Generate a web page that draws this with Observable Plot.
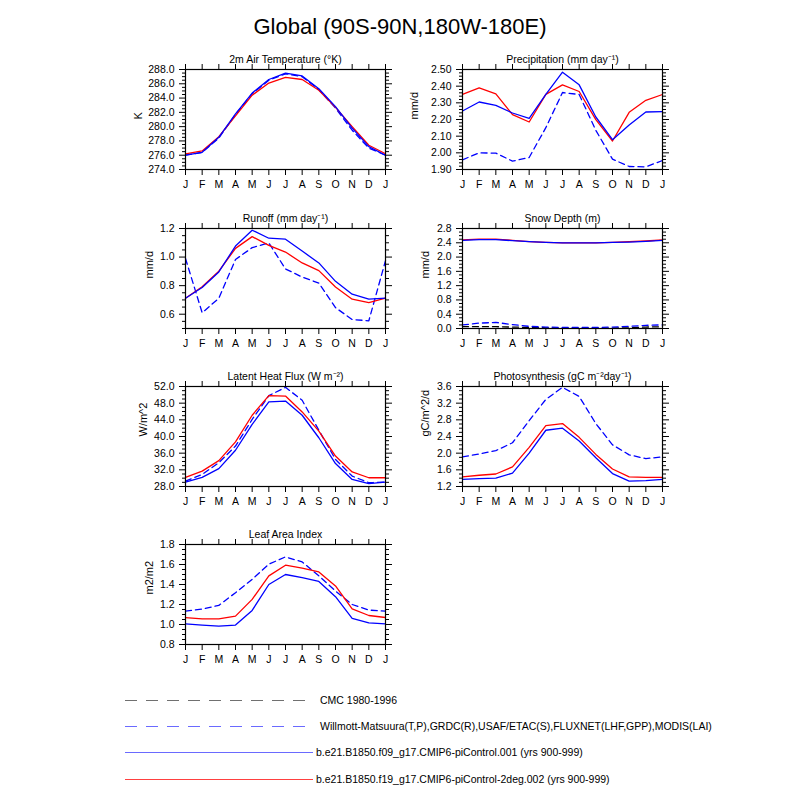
<!DOCTYPE html>
<html>
<head>
<meta charset="utf-8">
<script src="https://cdn.jsdelivr.net/npm/d3@7"></script>
<script src="https://cdn.jsdelivr.net/npm/@observablehq/plot@0.6"></script>
<style>
  html, body { margin: 0; padding: 0; background: #fff; }
  #root { position: relative; width: 800px; height: 800px; background: #fff; overflow: hidden; }
  #root > svg, #root > div { position: absolute; }
</style>
</head>
<body>
<div id="root"></div>
<script>
// ---------- data ----------
const months = ["J","F","M","A","M","J","J","A","S","O","N","D","J"];

const mainTitle = "Global (90S-90N,180W-180E)";

const legendLabels = [
  "CMC 1980-1996",
  "Willmott-Matsuura(T,P),GRDC(R),USAF/ETAC(S),FLUXNET(LHF,GPP),MODIS(LAI)",
  "b.e21.B1850.f09_g17.CMIP6-piControl.001 (yrs 900-999)",
  "b.e21.B1850.f19_g17.CMIP6-piControl-2deg.002 (yrs 900-999)"
];

// 2m air temperature (K)
const tsaF09 = [276.0,276.4,278.5,281.8,284.7,286.6,287.5,287.1,285.3,282.8,279.8,277.2,276.0];
const tsaF19 = [276.2,276.6,278.6,281.5,284.4,286.1,286.9,286.6,285.1,282.7,280.0,277.4,276.2];
const tsaObs = [276.0,276.4,278.4,281.7,284.6,286.5,287.4,287.0,285.2,282.6,279.5,277.0,276.0];

// precipitation (mm/d)
const preF09 = [2.251,2.305,2.285,2.239,2.207,2.351,2.484,2.408,2.215,2.079,2.167,2.245,2.247];
const preF19 = [2.351,2.390,2.354,2.229,2.185,2.351,2.408,2.368,2.199,2.071,2.243,2.315,2.350];
const preObs = [1.958,2.000,1.998,1.950,1.972,2.151,2.362,2.350,2.135,1.962,1.918,1.916,1.954];

// runoff (mm/d)
const qroF09 = [0.712,0.787,0.896,1.077,1.188,1.132,1.125,1.042,0.959,0.830,0.740,0.705,0.712];
const qroF19 = [0.712,0.792,0.901,1.061,1.143,1.082,1.035,0.959,0.905,0.790,0.705,0.681,0.712];
const qroObs = [0.990,0.610,0.712,0.983,1.066,1.099,0.917,0.860,0.818,0.646,0.563,0.554,0.975];

// snow depth (m)
const snoF09 = [2.47,2.49,2.49,2.46,2.43,2.41,2.40,2.40,2.40,2.41,2.42,2.44,2.47];
const snoF19 = [2.48,2.50,2.50,2.47,2.43,2.41,2.40,2.40,2.40,2.41,2.43,2.45,2.48];
const snoObs = [0.10,0.15,0.17,0.11,0.06,0.04,0.03,0.03,0.03,0.04,0.06,0.09,0.10];
const snoCmc = [0.05,0.05,0.05,0.04,0.03,0.02,0.01,0.01,0.01,0.01,0.02,0.04,0.05];

// latent heat flux (W/m2)
const lhfF09 = [29.05,30.2,32.3,36.7,42.9,48.3,48.5,45.1,39.7,33.5,29.7,28.7,29.05];
const lhfF19 = [30.2,31.7,34.2,38.7,45.1,49.8,49.7,45.9,41.3,35.3,31.5,30.1,30.1];
const lhfObs = [29.3,30.9,33.7,37.7,44.1,49.8,51.8,48.7,41.5,34.5,30.5,28.9,29.1];

// photosynthesis (gC/m2/d)
const gppF09 = [1.37,1.39,1.40,1.52,2.00,2.55,2.60,2.29,1.89,1.51,1.33,1.34,1.37];
const gppF19 = [1.43,1.47,1.50,1.67,2.14,2.66,2.71,2.38,1.97,1.62,1.43,1.42,1.42];
const gppObs = [1.91,1.98,2.06,2.25,2.78,3.29,3.58,3.36,2.71,2.20,1.96,1.87,1.91];

// leaf area index (m2/m2)
const laiF09 = [1.007,0.994,0.984,0.994,1.141,1.400,1.500,1.469,1.431,1.278,1.061,1.017,1.007];
const laiF19 = [1.068,1.057,1.057,1.084,1.251,1.486,1.593,1.563,1.526,1.386,1.157,1.090,1.070];
const laiObs = [1.134,1.154,1.191,1.318,1.452,1.603,1.676,1.626,1.486,1.335,1.200,1.144,1.134];

// ---------- styles ----------
const FONT = "'Liberation Sans', Arial, Helvetica, sans-serif";
const S_CMC = {stroke: "black", dash: "6,4"};
const S_OBS = {stroke: "#0000ff", dash: "6,4"};
const S_F09 = {stroke: "#0000ff", dash: null};
const S_F19 = {stroke: "#ff0000", dash: null};

const panels = [
  {title: "2m Air Temperature (°K)", ylabel: "K", domain: [274, 288], major: 2, minor: 0.5, fmt: ".1f", ldx: -47,
   col: 0, row: 0, series: [[tsaObs, S_OBS], [tsaF19, S_F19], [tsaF09, S_F09]]},
  {title: "Precipitation (mm day⁻¹)", ylabel: "mm/d", domain: [1.9, 2.5], major: 0.1, minor: 0.02, fmt: ".2f", ldx: -48,
   col: 1, row: 0, series: [[preObs, S_OBS], [preF19, S_F19], [preF09, S_F09]]},
  {title: "Runoff (mm day⁻¹)", ylabel: "mm/d", domain: [0.5, 1.2], majorStart: 0.6, major: 0.2, minor: 0.05, fmt: ".1f", ldx: -36,
   col: 0, row: 1, series: [[qroObs, S_OBS], [qroF19, S_F19], [qroF09, S_F09]]},
  {title: "Snow Depth (m)", ylabel: "mm/d", domain: [0, 2.8], major: 0.4, minor: 0.1, fmt: ".1f", ldx: -37,
   col: 1, row: 1, series: [[snoCmc, S_CMC], [snoObs, S_OBS], [snoF19, S_F19], [snoF09, S_F09]]},
  {title: "Latent Heat Flux (W m⁻²)", ylabel: "W/m^2", domain: [28, 52], major: 4, minor: 1, fmt: ".1f", ldx: -42,
   col: 0, row: 2, series: [[lhfObs, S_OBS], [lhfF19, S_F19], [lhfF09, S_F09]]},
  {title: "Photosynthesis (gC m⁻²day⁻¹)", ylabel: "gC/m^2/d", domain: [1.2, 3.6], major: 0.4, minor: 0.1, fmt: ".1f", ldx: -37,
   col: 1, row: 2, series: [[gppObs, S_OBS], [gppF19, S_F19], [gppF09, S_F09]]},
  {title: "Leaf Area Index", ylabel: "m2/m2", domain: [0.8, 1.8], major: 0.2, minor: 0.05, fmt: ".1f", ldx: -36,
   col: 0, row: 3, series: [[laiObs, S_OBS], [laiF19, S_F19], [laiF09, S_F09]]}
];

// ---------- layout ----------
const colX = [185, 462];
const rowY = [69, 228, 386, 544];
const W = 200, H = 100, mL = 62, mR = 12, mT = 26, mB = 28;

const root = document.getElementById("root");

function stepTicks(lo, hi, step) {
  const n = Math.round((hi - lo) / step);
  const out = [];
  for (let k = 0; k <= n; k++) out.push(+(lo + k * step).toFixed(6));
  return out;
}

// background layer: title + legend
const bg = d3.select(root).append("svg")
  .attr("width", 800).attr("height", 800)
  .style("left", "0px").style("top", "0px")
  .style("font-family", FONT);

bg.append("text")
  .attr("x", 400).attr("y", 34)
  .attr("text-anchor", "middle")
  .attr("font-size", 22)
  .attr("fill", "black")
  .text(mainTitle);

for (const p of panels) {
  const [lo, hi] = p.domain;
  const major = stepTicks(p.majorStart ?? lo, hi, p.major);
  const minor = stepTicks(lo, hi, p.minor).filter(v => !major.some(m => Math.abs(m - v) < 1e-6));
  const fmt = d3.format(p.fmt);
  const xt = d3.range(months.length);
  const blank = () => "";

  const marks = [
    Plot.axisX({anchor: "bottom", ticks: xt, tickSize: 6, tickPadding: 5, tickFormat: i => months[i], label: null, fontSize: 10.5}),
    Plot.axisX({anchor: "top", ticks: xt, tickSize: 6, tickFormat: blank, label: null}),
    Plot.axisY({anchor: "left", ticks: major, tickSize: 6, tickPadding: 5, tickFormat: fmt, label: null, fontSize: 10.5}),
    Plot.axisY({anchor: "left", ticks: minor, tickSize: 3, tickFormat: blank, label: null}),
    Plot.axisY({anchor: "right", ticks: major, tickSize: 6, tickFormat: blank, label: null}),
    Plot.axisY({anchor: "right", ticks: minor, tickSize: 3, tickFormat: blank, label: null})
  ];
  for (const [vals, st] of p.series) {
    marks.push(Plot.line(vals, {
      x: (d, i) => i, y: d => d,
      stroke: st.stroke, strokeWidth: 1.3,
      strokeDasharray: st.dash ?? undefined
    }));
  }
  marks.push(Plot.frame({stroke: "black", strokeWidth: 1.2}));
  marks.push(Plot.text([p.title], {frameAnchor: "top", lineAnchor: "bottom", dy: -7, fontSize: 10.5, fill: "black"}));
  marks.push(Plot.text([p.ylabel], {frameAnchor: "left", lineAnchor: "middle", rotate: -90, dx: p.ldx, fontSize: 11, fill: "black"}));

  const chart = Plot.plot({
    width: W + mL + mR, height: H + mT + mB,
    marginLeft: mL, marginRight: mR, marginTop: mT, marginBottom: mB,
    style: {fontFamily: FONT, fontSize: "10.5px", background: "transparent", overflow: "visible", color: "black"},
    x: {domain: [0, months.length - 1]},
    y: {domain: p.domain},
    marks
  });
  chart.style.position = "absolute";
  chart.style.left = (colX[p.col] - mL) + "px";
  chart.style.top = (rowY[p.row] - mT) + "px";
  root.appendChild(chart);
}

// legend
const legendStyles = [
  {stroke: "#707070", dash: "12,9", x2: 305, tx: 320},
  {stroke: "#6a6aff", dash: "12,9", x2: 305, tx: 320},
  {stroke: "#6a6aff", dash: null, x2: 313, tx: 316},
  {stroke: "#ff4040", dash: null, x2: 313, tx: 316}
];
const legendY = [700, 726, 752, 779];
legendLabels.forEach((lab, k) => {
  const st = legendStyles[k];
  bg.append("line")
    .attr("x1", 125).attr("x2", st.x2)
    .attr("y1", legendY[k] + 0.5).attr("y2", legendY[k] + 0.5)
    .attr("stroke", st.stroke).attr("stroke-width", 1)
    .attr("stroke-dasharray", st.dash);
  bg.append("text")
    .attr("x", st.tx).attr("y", legendY[k])
    .attr("dy", "0.35em")
    .attr("font-size", 10.5)
    .attr("fill", "black")
    .text(lab);
});
</script>
</body>
</html>
